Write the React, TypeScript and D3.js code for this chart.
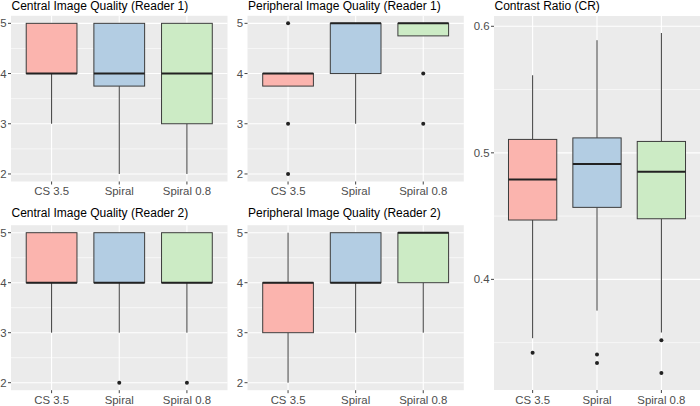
import React from "react";
import * as d3 from "d3";

const categories = ["CS 3.5", "Spiral", "Spiral 0.8"];
const fills = ["#FBB4AE", "#B3CDE3", "#CCEBC5"];

// [lower whisker, q1, median, q3, upper whisker]
const centralR1 = [[3, 4, 4, 5, 5], [2, 3.75, 4, 5, 5], [2, 3, 4, 5, 5]];
const centralR1Out = [[], [], []];
const periphR1 = [[3.75, 3.75, 4, 4, 4], [3, 4, 5, 5, 5], [4.75, 4.75, 5, 5, 5]];
const periphR1Out = [[5, 3, 2], [], [4, 3]];
const centralR2 = [[3, 4, 4, 5, 5], [3, 4, 4, 5, 5], [3, 4, 4, 5, 5]];
const centralR2Out = [[], [2], [2]];
const periphR2 = [[2, 3, 4, 4, 5], [3, 4, 4, 5, 5], [3, 4, 5, 5, 5]];
const periphR2Out = [[], [], []];
const contrast = [
  [0.3535, 0.4469, 0.479, 0.5106, 0.5613],
  [0.3753, 0.4569, 0.4911, 0.5118, 0.589],
  [0.358, 0.4479, 0.485, 0.509, 0.5947],
];
const contrastOut = [[0.342], [0.3406, 0.334], [0.3519, 0.326]];

const scoreTicks = [2, 3, 4, 5];
const scoreMinor = [2.5, 3.5, 4.5];
const crTicks = [0.4, 0.5, 0.6];
const crMinor = [0.35, 0.45, 0.55];

const FONT = "'Liberation Sans', Arial, sans-serif";

type PanelProps = {
  title: string;
  titleY: number;
  x0: number; x1: number; y0: number; y1: number;
  stats: number[][]; outs: number[][];
  ticks: number[]; minor: number[];
  fmt: (v: number) => string;
};

function Panel({ title, titleY, x0, x1, y0, y1, stats, outs, ticks, minor, fmt }: PanelProps) {
  const all: number[] = [];
  stats.forEach((s) => all.push(s[0], s[4]));
  outs.forEach((o) => all.push(...o));
  const [mn, mx] = d3.extent(all) as [number, number];
  const pad = (mx - mn) * 0.05;
  const y = d3.scaleLinear().domain([mn - pad, mx + pad]).range([y1, y0]);
  const x = d3.scalePoint<string>().domain(categories).range([x0, x1]).padding(0.6);
  const bw = x.step() * 0.75;
  const stroke = "#3c3c3c";
  return (
    <g>
      <rect x={x0} y={y0} width={x1 - x0} height={y1 - y0} fill="#EBEBEB" />
      {minor.map((v) => (
        <line key={"mi" + v} x1={x0} x2={x1} y1={y(v)} y2={y(v)} stroke="#fff" strokeWidth={0.6} />
      ))}
      {ticks.map((v) => (
        <line key={"ma" + v} x1={x0} x2={x1} y1={y(v)} y2={y(v)} stroke="#fff" strokeWidth={1.1} />
      ))}
      {categories.map((c) => (
        <line key={"vg" + c} x1={x(c)} x2={x(c)} y1={y0} y2={y1} stroke="#fff" strokeWidth={1.1} />
      ))}
      {categories.map((c, i) => {
        const s = stats[i];
        const cx = x(c)!;
        return (
          <g key={"b" + c}>
            <line x1={cx} x2={cx} y1={y(s[0])} y2={y(s[1])} stroke={stroke} strokeWidth={1} />
            <line x1={cx} x2={cx} y1={y(s[3])} y2={y(s[4])} stroke={stroke} strokeWidth={1} />
            <rect x={cx - bw / 2} y={y(s[3])} width={bw} height={y(s[1]) - y(s[3])}
              fill={fills[i]} stroke={stroke} strokeWidth={1} />
            <line x1={cx - bw / 2} x2={cx + bw / 2} y1={y(s[2])} y2={y(s[2])} stroke="#222" strokeWidth={2} />
            {outs[i].map((o, j) => (
              <circle key={j} cx={cx} cy={y(o)} r={2} fill="#222" />
            ))}
          </g>
        );
      })}
      {ticks.map((v) => (
        <g key={"yt" + v}>
          <line x1={x0 - 3} x2={x0} y1={y(v)} y2={y(v)} stroke="#444" strokeWidth={1} />
          <text x={x0 - 4.5} y={y(v)} dy="0.35em" textAnchor="end" fontSize={11.4}
            fill="#4D4D4D" fontFamily={FONT}>{fmt(v)}</text>
        </g>
      ))}
      {categories.map((c) => (
        <g key={"xt" + c}>
          <line x1={x(c)} x2={x(c)} y1={y1} y2={y1 + 3} stroke="#444" strokeWidth={1} />
          <text x={x(c)} y={y1 + 13.8} textAnchor="middle" fontSize={11.4}
            fill="#4D4D4D" fontFamily={FONT}>{c}</text>
        </g>
      ))}
      <text x={x0 + 0.5} y={titleY} fontSize={12} fill="#000" fontFamily={FONT}>{title}</text>
    </g>
  );
}

export default function App() {
  const f0 = (v: number) => d3.format("d")(v);
  const f1 = (v: number) => d3.format(".1f")(v);
  return (
    <svg width={700} height={406} style={{ display: "block", position: "absolute", left: 0, top: 0 }}>
      <rect width={700} height={406} fill="#fff" />
      <Panel title="Central Image Quality (Reader 1)" titleY={9.8} x0={11} x1={227.5} y0={15.8} y1={181.5}
        stats={centralR1} outs={centralR1Out} ticks={scoreTicks} minor={scoreMinor} fmt={f0} />
      <Panel title="Peripheral Image Quality (Reader 1)" titleY={9.8} x0={247.5} x1={463.8} y0={15.8} y1={181.5}
        stats={periphR1} outs={periphR1Out} ticks={scoreTicks} minor={scoreMinor} fmt={f0} />
      <Panel title="Central Image Quality (Reader 2)" titleY={217} x0={11} x1={227.5} y0={225.2} y1={390.2}
        stats={centralR2} outs={centralR2Out} ticks={scoreTicks} minor={scoreMinor} fmt={f0} />
      <Panel title="Peripheral Image Quality (Reader 2)" titleY={217} x0={247.5} x1={463.8} y0={225.2} y1={390.2}
        stats={periphR2} outs={periphR2Out} ticks={scoreTicks} minor={scoreMinor} fmt={f0} />
      <Panel title="Contrast Ratio (CR)" titleY={9.8} x0={494} x1={700} y0={16} y1={390}
        stats={contrast} outs={contrastOut} ticks={crTicks} minor={crMinor} fmt={f1} />
    </svg>
  );
}
